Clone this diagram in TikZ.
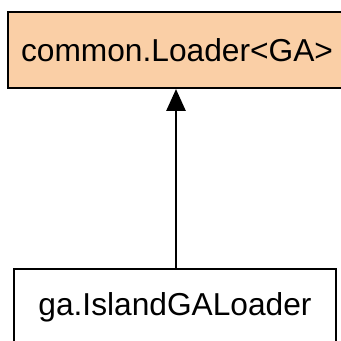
\documentclass[tikz,border=0pt]{standalone}
\usepackage{fontspec}
\setmainfont{Liberation Sans}
\usetikzlibrary{arrows.meta}
\definecolor{ifacefill}{HTML}{FACFA6}
\definecolor{clsline}{HTML}{000000}
\tikzset{
  cls/.style={draw=clsline, line width=2pt, inner sep=0pt, font=\fontsize{31.7}{36}\selectfont, text=black},
  iface/.style={cls, fill=ifacefill, minimum width=338pt, minimum height=76pt},
  impl/.style={cls, fill=white, minimum width=322pt, minimum height=76pt},
  realize/.style={-{Triangle[length=22pt, width=19pt]}, draw=black, line width=2.8pt},
}
\begin{document}
\begin{tikzpicture}[x=1pt,y=1pt]
  \clip (0,0) rectangle (341,341);
  \fill[white] (0,0) rectangle (341,341);
  \node[iface] (loader) at (177,291) {common.Loader<GA>};
  \node[impl] (islandLoader) at (175,34) {ga.IslandGALoader};
  \draw[realize] (islandLoader.north -| 176,0) -- (loader.south -| 176,0);
\end{tikzpicture}
\end{document}
